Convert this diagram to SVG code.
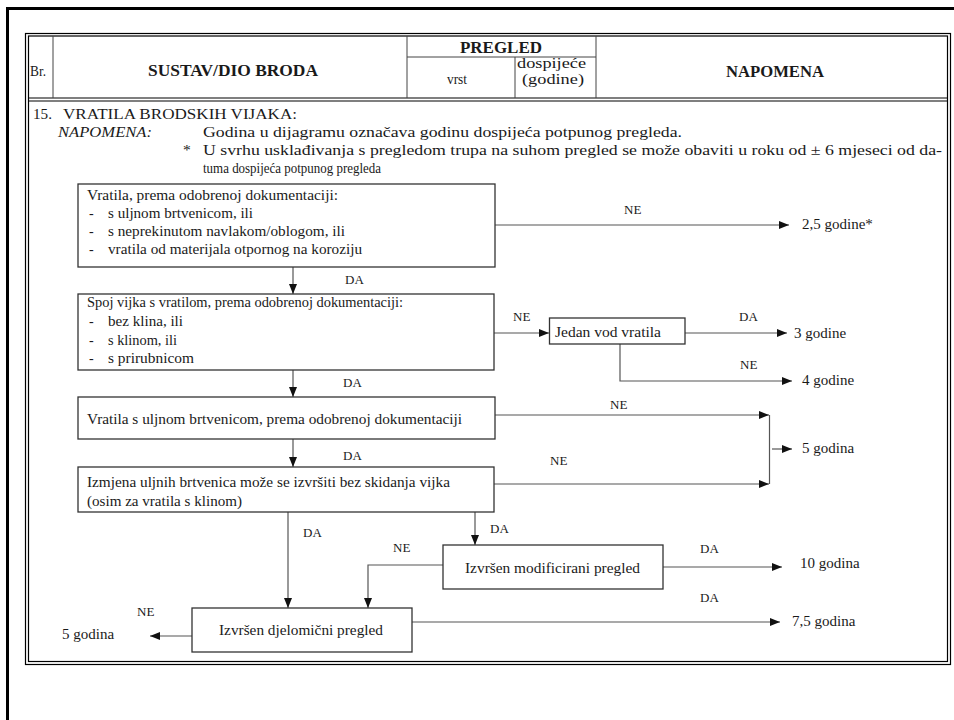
<svg xmlns="http://www.w3.org/2000/svg" width="954" height="720" viewBox="0 0 954 720" font-family="'Liberation Serif','DejaVu Serif','Noto Serif',serif">
<defs>
<marker id="ah" viewBox="0 0 10 8" refX="10" refY="4" markerWidth="10" markerHeight="8" orient="auto" markerUnits="userSpaceOnUse"><path d="M0,0 L10,4 L0,8 z" fill="#111"/></marker>
</defs>
<style>
text{font-family:'Liberation Serif','DejaVu Serif','Noto Serif',serif;fill:#1a1a1a;font-size:15px}
.h{font-weight:bold;font-size:16px}
.n{font-size:15.5px}
.b{font-size:14px}
.o{font-size:15px}
.l{font-size:13px}
.box{fill:#fff;stroke:#333;stroke-width:1.3}
.frame{fill:none;stroke:#000;stroke-width:1.2}
.div{stroke:#444;stroke-width:1}
.c{fill:none;stroke:#555;stroke-width:1.2}
.ca{fill:none;stroke:#555;stroke-width:1.2;marker-end:url(#ah)}
</style>
<rect width="954" height="720" fill="#fff"/>
<g id="page-frame">
<path d="M7.5,720 V8.5 H954" fill="none" stroke="#000" stroke-width="3"/>
</g>
<g id="table">
<rect class="frame" x="25.5" y="33.5" width="925" height="631"/>
<rect class="frame" x="28.5" y="36" width="919" height="625.5"/>
<line class="frame" x1="28.5" y1="98" x2="947.5" y2="98"/>
<line class="frame" x1="28.5" y1="101" x2="947.5" y2="101"/>
<line class="div" x1="53" y1="36" x2="53" y2="98"/>
<line class="div" x1="407" y1="36" x2="407" y2="98"/>
<line class="div" x1="596" y1="36" x2="596" y2="98"/>
<line class="div" x1="407" y1="57" x2="596" y2="57"/>
<line class="div" x1="515" y1="57" x2="515" y2="98"/>
<text x="30" y="76" textLength="16" lengthAdjust="spacingAndGlyphs">Br.</text>
<text class="h" x="148" y="76" textLength="170" lengthAdjust="spacingAndGlyphs">SUSTAV/DIO BRODA</text>
<text class="h" x="460" y="53" textLength="82" lengthAdjust="spacingAndGlyphs">PREGLED</text>
<text x="447" y="84" textLength="20" lengthAdjust="spacingAndGlyphs">vrst</text>
<text x="517" y="68" font-size="14" textLength="69" lengthAdjust="spacingAndGlyphs">dospijeće</text>
<text x="522" y="84" font-size="14" textLength="62" lengthAdjust="spacingAndGlyphs">(godine)</text>
<text class="h" x="726" y="77" textLength="98" lengthAdjust="spacingAndGlyphs">NAPOMENA</text>
</g>
<g id="notes">
<text class="n" x="33" y="119" textLength="19" lengthAdjust="spacingAndGlyphs">15.</text>
<text class="n" x="63" y="119" textLength="234" lengthAdjust="spacingAndGlyphs">VRATILA BRODSKIH VIJAKA:</text>
<text class="n" x="58" y="137" font-style="italic" textLength="94" lengthAdjust="spacingAndGlyphs">NAPOMENA:</text>
<text class="n" x="203" y="137" textLength="479" lengthAdjust="spacingAndGlyphs">Godina u dijagramu označava godinu dospijeća potpunog pregleda.</text>
<text class="n" x="183" y="155">*</text>
<text class="n" x="203" y="155" textLength="739" lengthAdjust="spacingAndGlyphs">U svrhu usklađivanja s pregledom trupa na suhom pregled se može obaviti u roku od ± 6 mjeseci od da-</text>
<text class="n" x="203" y="173" textLength="178" lengthAdjust="spacingAndGlyphs">tuma dospijeća potpunog pregleda</text>
</g>
<g id="connectors">
<line class="ca" x1="495" y1="225" x2="789" y2="225"/>
<line class="ca" x1="293" y1="267" x2="293" y2="294"/>
<line class="ca" x1="494" y1="333" x2="549" y2="333"/>
<line class="ca" x1="685" y1="333" x2="787" y2="333"/>
<path class="ca" d="M620,344 V381 H792"/>
<line class="ca" x1="293" y1="370" x2="293" y2="397"/>
<line class="ca" x1="495" y1="415" x2="769" y2="415"/>
<line class="ca" x1="293" y1="439" x2="293" y2="467"/>
<line class="ca" x1="494" y1="484" x2="769" y2="484"/>
<line class="c" x1="769.5" y1="415" x2="769.5" y2="484" stroke="#222"/>
<line class="ca" x1="772" y1="449" x2="792" y2="449"/>
<line class="ca" x1="288" y1="512" x2="288" y2="608"/>
<line class="ca" x1="475" y1="512" x2="475" y2="545"/>
<line class="ca" x1="663" y1="567" x2="782" y2="567"/>
<path class="ca" d="M443,565 H368 V608"/>
<line class="ca" x1="192" y1="636" x2="150" y2="636"/>
<line class="ca" x1="412" y1="622" x2="780" y2="622"/>
<text class="l" x="624" y="214">NE</text>
<text class="l" x="345" y="284">DA</text>
<text class="l" x="513" y="321">NE</text>
<text class="l" x="739" y="321">DA</text>
<text class="l" x="740" y="369">NE</text>
<text class="l" x="343" y="387">DA</text>
<text class="l" x="610" y="409">NE</text>
<text class="l" x="343" y="460">DA</text>
<text class="l" x="550" y="465">NE</text>
<text class="l" x="303" y="537">DA</text>
<text class="l" x="490" y="533">DA</text>
<text class="l" x="393" y="552">NE</text>
<text class="l" x="700" y="553">DA</text>
<text class="l" x="700" y="602">DA</text>
<text class="l" x="137" y="616">NE</text>
</g>
<g id="box1">
<rect class="box" x="78" y="184" width="417" height="83"/>
<text class="b" x="87" y="200" textLength="251" lengthAdjust="spacingAndGlyphs">Vratila, prema odobrenoj dokumentaciji:</text>
<text class="b" x="89" y="218">-</text>
<text class="b" x="108" y="218" textLength="145" lengthAdjust="spacingAndGlyphs">s uljnom brtvenicom, ili</text>
<text class="b" x="89" y="236">-</text>
<text class="b" x="108" y="236" textLength="237" lengthAdjust="spacingAndGlyphs">s neprekinutom navlakom/oblogom, ili</text>
<text class="b" x="89" y="254">-</text>
<text class="b" x="108" y="254" textLength="254" lengthAdjust="spacingAndGlyphs">vratila od materijala otpornog na koroziju</text>
</g>
<g id="box2">
<rect class="box" x="78" y="294" width="416" height="76"/>
<text class="b" x="87" y="307" textLength="316" lengthAdjust="spacingAndGlyphs">Spoj vijka s vratilom, prema odobrenoj dokumentaciji:</text>
<text class="b" x="89" y="326">-</text>
<text class="b" x="108" y="326" textLength="75" lengthAdjust="spacingAndGlyphs">bez klina, ili</text>
<text class="b" x="89" y="345">-</text>
<text class="b" x="108" y="345" textLength="69" lengthAdjust="spacingAndGlyphs">s klinom, ili</text>
<text class="b" x="89" y="363">-</text>
<text class="b" x="108" y="363" textLength="86" lengthAdjust="spacingAndGlyphs">s prirubnicom</text>
</g>
<g id="box3">
<rect class="box" x="549.5" y="318" width="135.5" height="26"/>
<text class="b" x="555" y="337" textLength="106" lengthAdjust="spacingAndGlyphs">Jedan vod vratila</text>
</g>
<g id="box4">
<rect class="box" x="78" y="397" width="417" height="42"/>
<text class="b" x="87" y="424" textLength="375" lengthAdjust="spacingAndGlyphs">Vratila s uljnom brtvenicom, prema odobrenoj dokumentaciji</text>
</g>
<g id="box5">
<rect class="box" x="78" y="467" width="416" height="45"/>
<text class="b" x="87" y="487" textLength="363" lengthAdjust="spacingAndGlyphs">Izmjena uljnih brtvenica može se izvršiti bez skidanja vijka</text>
<text class="b" x="87" y="506" textLength="155" lengthAdjust="spacingAndGlyphs">(osim za vratila s klinom)</text>
</g>
<g id="box6">
<rect class="box" x="443" y="545" width="220" height="44"/>
<text class="b" x="465" y="573" textLength="175" lengthAdjust="spacingAndGlyphs">Izvršen modificirani pregled</text>
</g>
<g id="box7">
<rect class="box" x="192" y="608" width="220" height="44"/>
<text class="b" x="219" y="635" textLength="164" lengthAdjust="spacingAndGlyphs">Izvršen djelomični pregled</text>
</g>
<g id="outcomes">
<text class="o" x="802" y="229">2,5 godine*</text>
<text class="o" x="794" y="338">3 godine</text>
<text class="o" x="802" y="385">4 godine</text>
<text class="o" x="802" y="453">5 godina</text>
<text class="o" x="800" y="568">10 godina</text>
<text class="o" x="792" y="626">7,5 godina</text>
<text class="o" x="62" y="639">5 godina</text>
</g>
</svg>
